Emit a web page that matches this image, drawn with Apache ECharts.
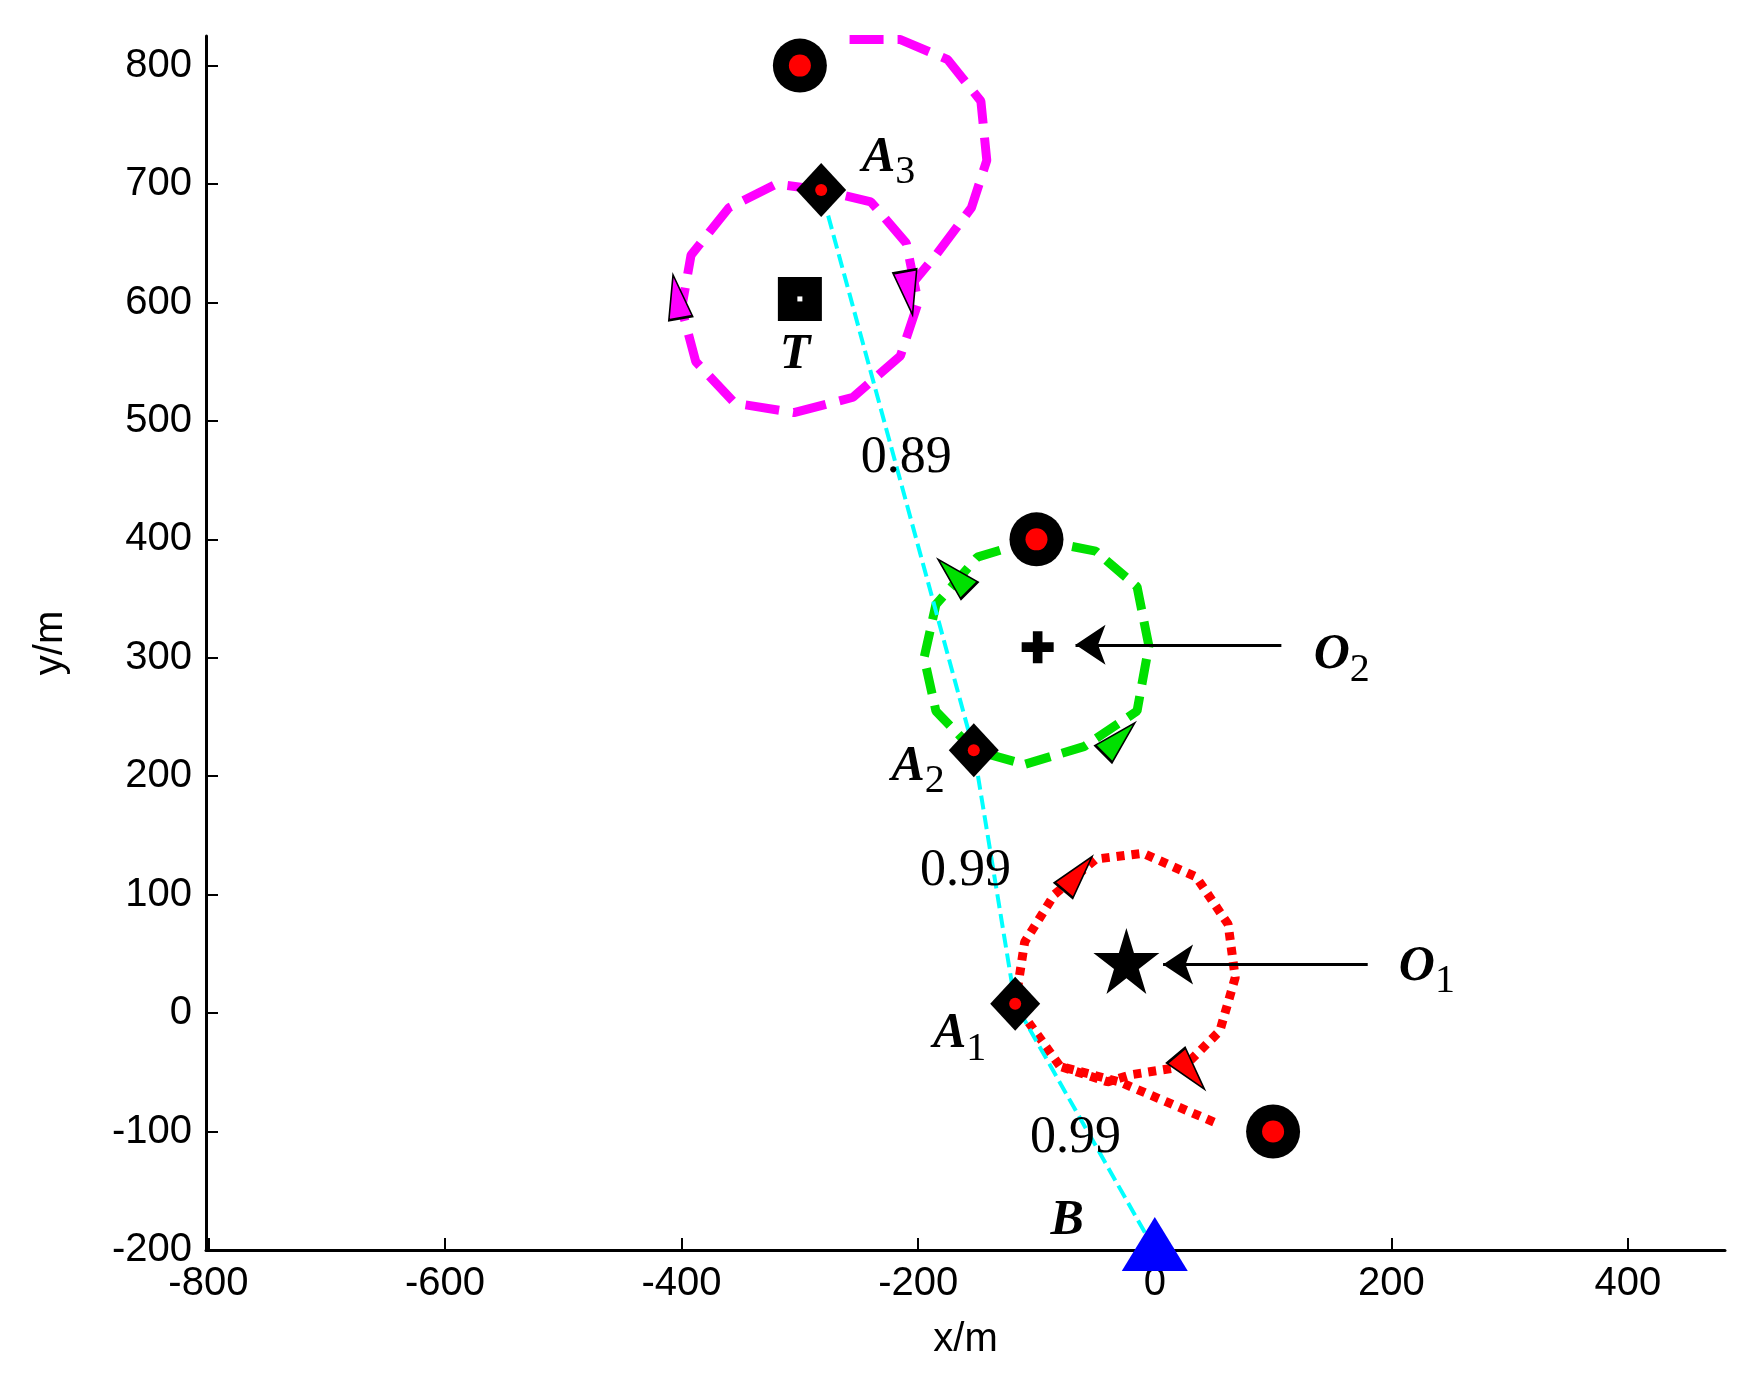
<!DOCTYPE html><html><head><meta charset="utf-8">
<script src="https://cdn.jsdelivr.net/npm/echarts@6/dist/echarts.min.js"></script>
<style>html,body{margin:0;background:#fff}#c{width:1738px;height:1387px}</style></head><body><div id="c"></div>
<script>
const cyanPath=[[0,-200],[-118,8],[-153,222],[-282,695]];
const redPath=[[50,-92],[10,-75],[-30,-58],[-80,-45],[-118,8],[-110,60],[-85,100],[-50,130],[-10,135],[35,115],[62,75],[68,30],[55,-15],[25,-45],[-20,-52],[-40,-58],[-80,-45]];
const greenPath=[[-100,400],[-150,385],[-185,345],[-195,300],[-185,255],[-153,222],[-110,210],[-60,225],[-15,255],[-5,310],[-15,360],[-50,390],[-100,400]];
const magentaCircle=[[-282,695],[-320,700],[-360,680],[-392,640],[-400,595],[-388,550],[-355,515],[-305,507],[-255,520],[-215,555],[-200,600],[-210,650],[-240,685],[-282,695]];
const magentaArc=[[-258,822],[-215,822],[-175,805],[-147,770],[-142,720],[-155,680],[-185,640],[-210,610]];
const goals=[[-300,800],[-100,400],[100,-100]];
const waypoints=[[-118,8],[-153,222],[-282,695]];
const arrowsRed=[[-65,118,-40],[30,-50,-140]];
const arrowsGreen=[[-170,370,45],[-30,232,-45]];
const arrowsMag=[[-404,605,10],[-208,608,190]];
const obstacle1=[[-24,44]];const obstacle2=[[-99,309]];const target=[[-300,603]];const base=[[0,-200]];
const labels=[["A","3",-225,722],["A","2",-200,208],["A","1",-165,-18],["T","",-304,556],["B","",-74,-176],["O","2",158,302],["O","1",230,39]];
const probs=[["0.89",-210,468],["0.99",-160,120],["0.99",-67,-106]];
const pointers=[[[107,311],[-67,311]],[[180,41],[7,41]]];
const xTicks=[-800,-600,-400,-200,0,200,400];

const tf='"Liberation Serif","DejaVu Serif",serif';
const line=(d,c,w,t)=>({type:'line',data:d,symbol:'none',z:3,lineStyle:{color:c,width:w,type:t,cap:'butt'}});
const arrows=(d,c)=>({type:'scatter',z:6,data:d.map(a=>({value:[a[0],a[1]],symbolRotate:a[2]})),symbol:'triangle',symbolSize:[24,44],itemStyle:{color:c,borderColor:'#000',borderWidth:2,opacity:1}});
const sc=(d,sym,size,color,z)=>({type:'scatter',z:z||4,data:d,symbol:sym,symbolSize:size,itemStyle:{color:color,opacity:1}});
const series=[
 line(magentaCircle,'#ff00ff',9,[34,14]),line(magentaArc,'#ff00ff',9,[34,14]),
 line(greenPath,'#00e000',9,[26,12]),line(redPath,'#ff0000',9,[8,7]),
 line(cyanPath,'#00ffff',4,[14,6]),
 arrows(arrowsRed,'#ff0000'),arrows(arrowsGreen,'#00e000'),arrows(arrowsMag,'#ff00ff'),
 sc(goals,'circle',54,'#000'),sc(goals,'circle',22,'#ff0000',5),
 sc(waypoints,'diamond',[50,54],'#000'),sc(waypoints,'circle',12,'#ff0000',5),
 sc(obstacle1,'path://M50,0L61,35L98,35L68,57L79,92L50,70L21,92L32,57L2,35L39,35Z',66,'#000'),
 sc(obstacle2,'path://M35,0H65V35H100V65H65V100H35V65H0V35H35Z',32,'#000'),
 sc(target,'rect',44,'#000'),sc(target,'rect',5,'#fff',5),
 {type:'scatter',z:4,data:base,symbol:'triangle',symbolSize:[66,54],symbolOffset:[0,-6],itemStyle:{color:'#0000ff',opacity:1}},
 {type:'scatter',z:7,symbolSize:1,itemStyle:{opacity:1,color:'transparent'},data:labels.map(l=>({value:[l[2],l[3]],label:{formatter:'{i|'+l[0]+'}{s|'+l[1]+'}'}})),
  label:{show:true,position:'inside',color:'#000',opacity:1,rich:{i:{fontFamily:tf,fontStyle:'italic',fontWeight:'bold',fontSize:50,color:'#000'},s:{fontFamily:tf,fontSize:40,color:'#000',verticalAlign:'bottom',padding:[30,0,0,0]}}}},
 {type:'scatter',z:7,symbolSize:1,itemStyle:{opacity:1,color:'transparent'},data:probs.map(p=>({value:[p[1],p[2]],label:{formatter:p[0]}})),
  label:{show:true,position:'inside',opacity:1,fontFamily:tf,fontSize:52,color:'#000'}},
];
pointers.forEach(p=>series.push({type:'lines',coordinateSystem:'cartesian2d',z:6,symbol:['none','arrow'],symbolSize:30,data:[{coords:p}],lineStyle:{color:'#000',width:3,opacity:1}}));
const af='"Liberation Sans Narrow","Liberation Sans",Arial,sans-serif';
const ax={axisLine:{show:true,onZero:false,lineStyle:{color:'#000',width:3}},axisTick:{show:true,inside:true,length:12,lineStyle:{color:'#000',width:2}},splitLine:{show:false},axisLabel:{color:'#000',fontSize:40,fontFamily:af}};
const chart=echarts.init(document.getElementById('c'));
chart.setOption({animation:false,
 grid:{left:206,right:13,top:36,bottom:137,containLabel:false},
 xAxis:Object.assign({type:'value',min:-802,max:482,name:'x/m',nameLocation:'middle',nameGap:70,nameTextStyle:{fontSize:40,fontFamily:af,color:'#000'},
  axisLabel:Object.assign({},ax.axisLabel,{margin:14,customValues:xTicks}),axisTick:Object.assign({},ax.axisTick,{customValues:xTicks})},{axisLine:ax.axisLine,splitLine:ax.splitLine}),
 yAxis:Object.assign({type:'value',min:-200,max:825,interval:100,name:'y/m',nameLocation:'middle',nameGap:135,nameTextStyle:{fontSize:40,fontFamily:af,color:'#000'},
  axisLabel:Object.assign({},ax.axisLabel,{margin:14,showMaxLabel:false})},{axisLine:ax.axisLine,axisTick:ax.axisTick,splitLine:ax.splitLine}),
 series});
</script></body></html>
